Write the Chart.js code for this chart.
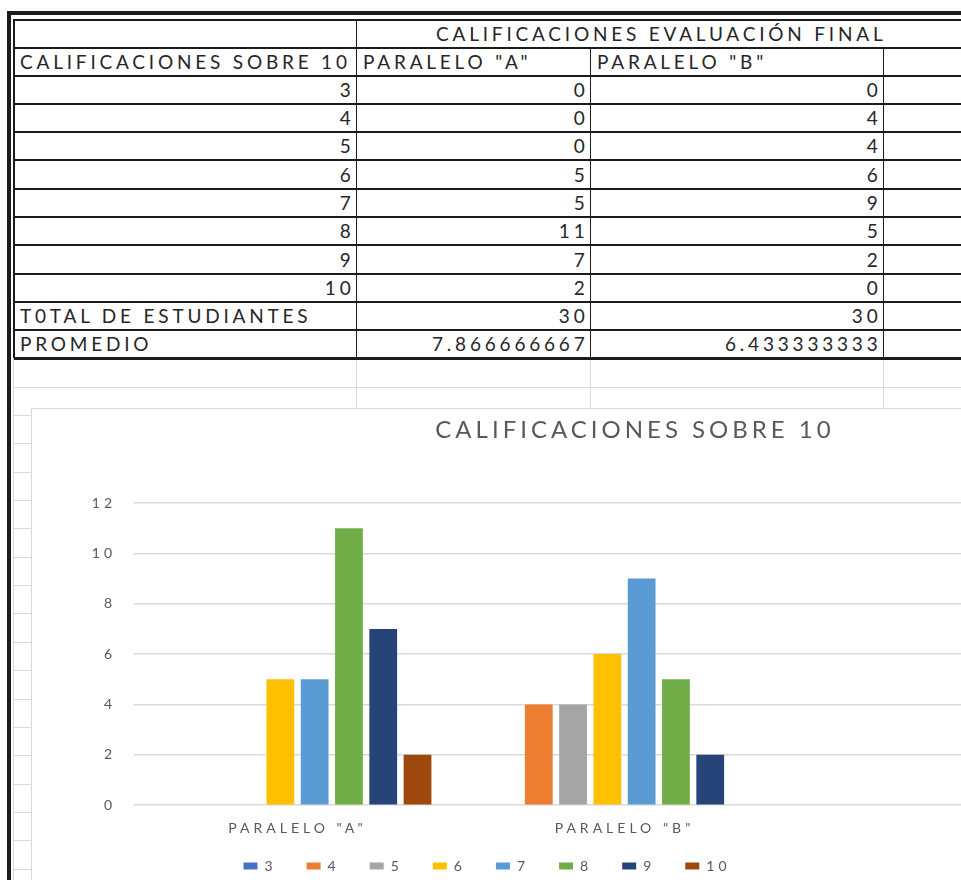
<!DOCTYPE html>
<html>
<head>
<meta charset="utf-8">
<script src="https://cdn.jsdelivr.net/npm/chart.js@4.4.1/dist/chart.umd.min.js"></script>
<style>
  html, body { margin: 0; padding: 0; background: #fff; width: 961px; height: 880px; overflow: hidden; }
  #sheet { position: absolute; left: 0; top: 0; width: 961px; height: 880px; overflow: hidden;
           font-family: Lato, "Open Sans", sans-serif; color: #262626; }
  .ln { position: absolute; background: #1c1c1c; }
  .gl { position: absolute; background: #d9d9d9; }
  .tx { position: absolute; font-size: 19px; letter-spacing: 3.8px; white-space: nowrap; }
  #chartBox { position: absolute; left: 31px; top: 408px; width: 1100px; height: 497px;
              border-left: 1px solid #d9d9d9; border-top: 1px solid #d9d9d9; background: #fff; }
  #myChart { display: block; }
</style>
</head>
<body>
<div id="sheet">
  <div id="chartBox"><canvas id="myChart" width="1100" height="497"></canvas></div>
</div>
<script>
// datos de la hoja
const grades = ['3', '4', '5', '6', '7', '8', '9', '10'];
const paraleloA = [0, 0, 0, 5, 5, 11, 7, 2];
const paraleloB = [0, 4, 4, 6, 9, 5, 2, 0];
const totals = ['30', '30'];
const promedios = ['7.866666667', '6.433333333'];
const groupLabels = ['PARALELO "A"', 'PARALELO "B"', ''];
const yTicks = [0, 2, 4, 6, 8, 10, 12];
const seriesColors = ['#4472C4', '#ED7D31', '#A5A5A5', '#FFC000', '#5B9BD5', '#70AD47', '#264478', '#9E480E'];

// ---- tabla (HTML) ----
const sheet = document.getElementById('sheet');
const rowY = [20, 48, 76, 104, 132, 160, 189, 217, 245, 274, 302, 330, 358];
const colX = [13, 356, 590, 883, 961];

function box(cls, x, y, w, h){
    const d = document.createElement('div');
    d.className = cls;
    d.style.left = x + 'px';
    d.style.top = y + 'px';
    d.style.width = w + 'px';
    d.style.height = h + 'px';
    sheet.appendChild(d);
    return d;
}

function cellText(str, row, col, align){
    const y = rowY[row], h = rowY[row + 1] - y;
    let d;
    if(align === 'right'){
        d = box('tx', colX[col], y, colX[col + 1] - colX[col] - 1.5, h);
    } else {
        d = box('tx', colX[col] + 7, y, 400, h);
    }
    d.textContent = str;
    d.style.textAlign = align;
    d.style.lineHeight = h + 'px';
}

// marco grueso
box('ln', 7, 11, 954, 4);
box('ln', 7, 11, 4, 869);

// lineas de la tabla
rowY.forEach((y, i) => {
    const thick = i === rowY.length - 1 ? 2.5 : 1.5;
    box('ln', 13, y - 0.75, 948, thick);
});
box('ln', 13, 20, 1.5, 338);
box('ln', 355.5, 20, 1.5, 338);
box('ln', 589.5, 48, 1.5, 310);
box('ln', 882.5, 48, 1.5, 310);

// cuadricula gris debajo
box('gl', 13, 358, 1, 522);
box('gl', 13, 386.5, 948, 1);
[356, 590, 883].forEach(x => box('gl', x, 360, 1, 48));
for(let y = 415; y < 880; y += 28.35){
    box('gl', 13, Math.round(y), 18, 1);
}

// textos
const title = box('tx', 436, 20, 525, 28);
title.textContent = 'CALIFICACIONES EVALUACIÓN FINAL';
title.style.lineHeight = '28px';

cellText('CALIFICACIONES SOBRE 10', 1, 0, 'left');
cellText('PARALELO "A"', 1, 1, 'left');
cellText('PARALELO "B"', 1, 2, 'left');
grades.forEach((g, i) => {
    cellText(g, i + 2, 0, 'right');
    cellText(String(paraleloA[i]), i + 2, 1, 'right');
    cellText(String(paraleloB[i]), i + 2, 2, 'right');
});
cellText('T0TAL DE ESTUDIANTES', 10, 0, 'left');
cellText(totals[0], 10, 1, 'right');
cellText(totals[1], 10, 2, 'right');
cellText('PROMEDIO', 11, 0, 'left');
cellText(promedios[0], 11, 1, 'right');
cellText(promedios[1], 11, 2, 'right');

// ---- grafico ----
const LETTER_SPACING = '4px';
const TITLE_CENTER = 603;   // canvas x
const LEGEND_CENTER = 455;  // canvas x
const LEGEND_TOP = 420;     // canvas y

// titulo y leyenda de Excel no estan centrados en el mismo eje
const excelPlacement = {
    id: 'excelPlacement',
    afterInit(chart){ chart.ctx.letterSpacing = LETTER_SPACING; },
    beforeUpdate(chart){ chart.ctx.letterSpacing = LETTER_SPACING; },
    afterLayout(chart){
        const t = chart.titleBlock;
        const l = chart.legend;
        t.left = TITLE_CENTER - 450; t.right = TITLE_CENTER + 450; t.width = 900;
        l.left = LEGEND_CENTER - 450; l.right = LEGEND_CENTER + 450; l.width = 900;
        const h = l.bottom - l.top;
        l.top = LEGEND_TOP; l.bottom = LEGEND_TOP + h;
    }
};

Chart.defaults.font.family = 'Lato, "Open Sans", sans-serif';
Chart.defaults.color = '#595959';

const datasets = grades.map((g, i) => ({
    label: g,
    data: [paraleloA[i], paraleloB[i], null],
    backgroundColor: seriesColors[i],
    borderWidth: 0,
    categoryPercentage: 0.839,
    barPercentage: 0.81,
}));

new Chart(document.getElementById('myChart').getContext('2d'), {
    type: 'bar',
    data: { labels: groupLabels, datasets: datasets },
    plugins: [excelPlacement],
    options: {
        responsive: false,
        animation: false,
        layout: { padding: { left: 0, right: 17, top: 0, bottom: 0 } },
        plugins: {
            title: {
                display: true,
                text: 'CALIFICACIONES SOBRE 10',
                color: '#595959',
                font: { size: 24, weight: 'normal' },
                padding: { top: 6.6, bottom: 58.6 },
            },
            legend: {
                position: 'bottom',
                labels: {
                    boxWidth: 14,
                    boxHeight: 7,
                    padding: 30,
                    color: '#595959',
                    font: { size: 14 },
                },
            },
            tooltip: { enabled: false },
        },
        scales: {
            x: {
                grid: { display: false, drawTicks: false },
                border: { display: false },
                ticks: { font: { size: 14 }, padding: 15, maxRotation: 0, autoSkip: false, color: '#595959' },
            },
            y: {
                min: yTicks[0],
                max: yTicks[yTicks.length - 1],
                grid: { color: '#d9d9d9', lineWidth: 1.5, drawTicks: false },
                border: { display: false },
                ticks: { stepSize: 2, font: { size: 14 }, padding: 18, color: '#595959' },
                afterFit: (scale) => { scale.width = 102; },
            },
        },
    },
});
</script>
</body>
</html>
